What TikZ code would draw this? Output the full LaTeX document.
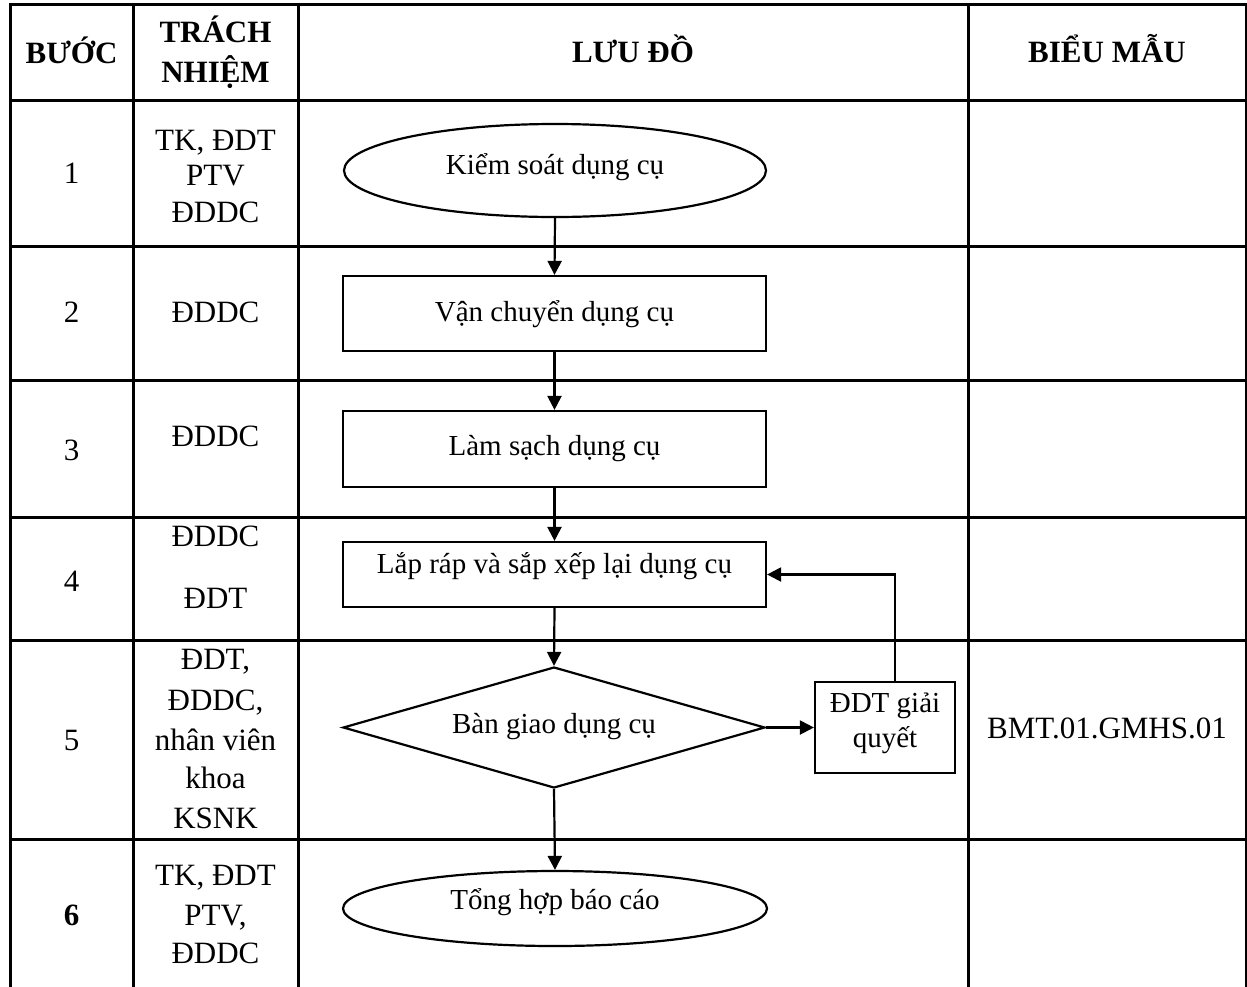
\documentclass[tikz,border=0pt]{standalone}
\usepackage{fontspec}
\setmainfont{Liberation Serif}
\usetikzlibrary{shapes.geometric,arrows.meta}
\newcommand\tabfont{\fontsize{31}{36}\selectfont}
\newcommand\flowfont{\fontsize{29}{35}\selectfont}
\tikzset{
  grid/.style={line width=3pt, line cap=rect},
  cell/.style={font=\tabfont, inner sep=0pt, anchor=base},
  headcell/.style={font=\tabfont\bfseries, inner sep=0pt, anchor=base},
  flow/.style={draw, line width=2.2pt, font=\flowfont, inner sep=0pt},
  flowtext/.style={font=\flowfont, inner sep=0pt, anchor=base},
  conn/.style={line width=2.2pt, -{Triangle[length=14pt,width=14pt]}},
}
\begin{document}
\begin{tikzpicture}[x=1pt,y=-1pt]
\useasboundingbox (0,0) rectangle (1247,986);
% table grid
\foreach \yy in {4,100,246,380,517,640,839}
  \draw[grid] (10,\yy) -- (1246,\yy);
\foreach \xx in {10,133,298,968,1246}
  \draw[grid] (\xx,4) -- (\xx,986);
% header
\node[headcell] (h1) at (71.5,63) {BƯỚC};
\node[headcell] (h2a) at (215.5,42) {TRÁCH};
\node[headcell] (h2b) at (215.5,82) {NHIỆM};
\node[headcell] (h3) at (633,62) {LƯU ĐỒ};
\node[headcell] (h4) at (1107,62) {BIỂU MẪU};
% steps
\node[cell] (s1) at (71.5,183) {1};
\node[cell] (s2) at (71.5,322) {2};
\node[cell] (s3) at (71.5,460) {3};
\node[cell] (s4) at (71.5,591) {4};
\node[cell] (s5) at (71.5,750) {5};
\node[headcell] (s6) at (71.5,925) {6};
% responsibilities
\node[cell] (r1a) at (215.5,150) {TK, ĐDT};
\node[cell] (r1b) at (215.5,185) {PTV};
\node[cell] (r1c) at (215.5,222) {ĐDDC};
\node[cell] (r2) at (215.5,322) {ĐDDC};
\node[cell] (r3) at (215.5,446) {ĐDDC};
\node[cell] (r4a) at (215.5,546) {ĐDDC};
\node[cell] (r4b) at (215.5,608) {ĐDT};
\node[cell] (r5a) at (215.5,669) {ĐDT,};
\node[cell] (r5b) at (215.5,710) {ĐDDC,};
\node[cell] (r5c) at (215.5,750) {nhân viên};
\node[cell] (r5d) at (215.5,788) {khoa};
\node[cell] (r5e) at (215.5,828) {KSNK};
\node[cell] (r6a) at (215.5,885) {TK, ĐDT};
\node[cell] (r6b) at (215.5,925) {PTV,};
\node[cell] (r6c) at (215.5,963) {ĐDDC};
% form
\node[cell] (f5) at (1107,738) {BMT.01.GMHS.01};
% flowchart
\node[flow, ellipse, minimum width=422pt, minimum height=93pt, text height=20pt, text depth=13pt] (e1) at (555,170.5) {Kiểm soát dụng cụ};
\node[flow, rectangle, minimum width=423pt, text height=45pt, text depth=30pt] (b2) at (554.5,313.5) {Vận chuyển dụng cụ};
\node[flow, rectangle, minimum width=423pt, text height=44pt, text depth=32pt] (b3) at (554.5,449) {Làm sạch dụng cụ};
\node[flow, rectangle, minimum width=423pt, text height=31pt, text depth=34pt] (b4) at (554.5,574.5) {Lắp ráp và sắp xếp lại dụng cụ};
\node[flow, diamond, aspect=3.5, minimum width=422pt, minimum height=121pt, text height=20pt, text depth=9pt] (d5) at (554,727.5) {Bàn giao dụng cụ};
\node[flow, rectangle, minimum width=140pt, minimum height=91pt] (fix) at (885,727.5) {};
\node[flowtext] (fixa) at (885,712) {ĐDT giải};
\node[flowtext] (fixb) at (885,747) {quyết};
\node[flow, ellipse, minimum width=424pt, minimum height=75pt, text height=16pt, text depth=15pt] (e6) at (555,908.5) {Tổng hợp báo cáo};
% connectors
\draw[conn] (e1.south) -- (b2.north);
\draw[conn] (b2.south) -- (b3.north);
\draw[conn] (b3.south) -- (b4.north);
\draw[conn] (b4.south) -- (d5.north);
\draw[conn] (d5.south) -- (e6.north);
\draw[conn] (d5.east) -- (fix.west);
\coordinate (fixtop) at ([xshift=10pt]fix.north);
\draw[conn] (fixtop) |- (b4.east);
\end{tikzpicture}
\end{document}
